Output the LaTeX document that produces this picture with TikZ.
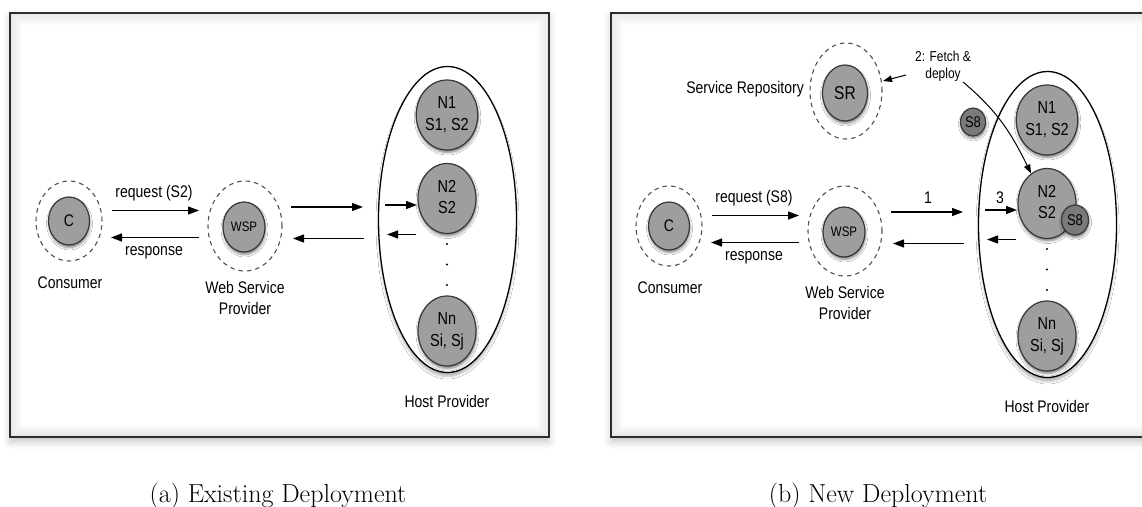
\documentclass[tikz,border=0pt]{standalone}
\usepackage{fontspec}
\newfontfamily\diagfont{Liberation Sans}
\usetikzlibrary{shapes.geometric, arrows.meta, shadows.blur}

\definecolor{nodefill}{RGB}{158,158,158}
\definecolor{darkfill}{RGB}{122,122,122}
\definecolor{nodeedge}{RGB}{55,55,55}
\definecolor{framecol}{RGB}{45,45,45}
\definecolor{halocol}{RGB}{80,80,80}

% diagram text is drawn slightly taller than wide
\newcommand\tallbox[1]{\scalebox{1}[1.2]{#1}}
\newcommand\twolines[2]{\tallbox{\begin{tabular}{@{}c@{}}#1\\#2\end{tabular}}}

\tikzset{
  x=1pt, y=1pt,
  frame/.style={draw=framecol, line width=1.5pt, fill=white,
    blur shadow={shadow xshift=0pt, shadow yshift=-5pt, shadow blur radius=7pt, shadow opacity=22}},
  glow/.style={draw=black, opacity=0.014},
  lbl/.style={font=\diagfont\fontsize{14}{16.7}\selectfont, inner sep=0pt, align=center},
  caption/.style={font=\fontsize{26}{30}\selectfont, inner sep=0pt, anchor=base},
  hostring/.style={ellipse, draw=black, line width=1.3pt, fill=white, inner sep=0pt,
    minimum width=138pt, minimum height=306pt,
    blur shadow={shadow xshift=0pt, shadow yshift=-4pt, shadow blur radius=2.5pt, shadow opacity=28}},
  disc/.style={ellipse, draw=nodeedge, line width=1.2pt, fill=nodefill, inner sep=0pt,
    blur shadow={shadow xshift=0.5pt, shadow yshift=-2.5pt, shadow blur radius=2.5pt, shadow opacity=50}},
  hostnode/.style={disc, minimum width=58pt, minimum height=70pt,
    font=\diagfont\fontsize{14.5}{18}\selectfont},
  svc/.style={disc, fill=darkfill, font=\diagfont\fontsize{13}{15}\selectfont},
  halo/.style={ellipse, draw=halocol, line width=1.1pt, dash pattern=on 4.5pt off 4pt, inner sep=0pt},
  arr/.style={-{Triangle[length=11pt, width=8pt]}, line width=1.3pt, black},
  arrthin/.style={-{Triangle[length=9pt, width=6.5pt]}, line width=1pt, black},
  dot/.style={circle, fill=black, inner sep=0pt, minimum size=2.4pt},
}

% framed panel with a soft inner edge
\newcommand\panelframe[4]{%
  \draw[frame] (#1,#2) rectangle (#3,#4);
  \begin{scope}
    \clip (#1,#2) rectangle (#3,#4);
    \foreach \w in {4,8,...,24}
      \draw[glow, line width=\w pt] (#1,#2) rectangle (#3,#4);
  \end{scope}
  \draw[draw=framecol, line width=1.5pt] (#1,#2) rectangle (#3,#4);
}

% consumer, provider and host provider of one deployment
\newcommand\panelbase[2]{%
  % host provider with its nodes
  \node[hostring] (#1host) at (447.5,-219.5) {};
  \node[hostnode] (#1n1) at (447,-115) {\twolines{N1}{S1, S2}};
  \node[hostnode] (#1n2) at (447,-198.5) {\twolines{N2}{S2}};
  \node[hostnode] (#1nn) at (447,-331) {\twolines{Nn}{Si, Sj}};
  \node[dot] (#1d1) at (447,-244) {};
  \node[dot] (#1d2) at (447,-264.5) {};
  \node[dot] (#1d3) at (447,-285) {};
  \node[lbl] (#1hostlbl) at (447,-401) {\tallbox{Host Provider}};
  % consumer
  \node[halo, minimum width=66pt, minimum height=80pt] (#1cd) at (69,-221) {};
  \node[disc, minimum width=41pt, minimum height=48pt,
        font=\diagfont\fontsize{14}{16}\selectfont] (#1c) at (69,-221) {\tallbox{C}};
  \node[lbl] (#1clbl) at (70,-283) {\tallbox{Consumer}};
  % web service provider
  \node[halo, minimum width=74pt, minimum height=90pt] (#1wd) at (245,-226) {};
  \node[disc, minimum width=42pt, minimum height=50pt,
        font=\diagfont\fontsize{11.5}{13}\selectfont] (#1w) at (244,-227) {\tallbox{WSP}};
  \node[lbl] (#1wlbl) at (245,-300) {\twolines{Web Service}{Provider}};
  % message ends
  \coordinate (#1reqA) at (112,-210.5);  \coordinate (#1reqB) at (199,-210.5);
  \coordinate (#1resA) at (199,-237.5);  \coordinate (#1resB) at (111,-237.5);
  \coordinate (#1fwdA) at (291,-207);    \coordinate (#1fwdB) at (363,-207);
  \coordinate (#1bckA) at (364,-238.5);  \coordinate (#1bckB) at (293,-238.5);
  \coordinate (#1inA)  at (385,-205);    \coordinate (#1inB)  at (417,-205);
  \coordinate (#1outA) at (416,-234.5);  \coordinate (#1outB) at (387,-234.5);
  \draw[arr] (#1reqA) -- (#1reqB);
  \draw[arr] (#1resA) -- (#1resB);
  \draw[arr] (#1fwdA) -- (#1fwdB);
  \draw[arr] (#1bckA) -- (#1bckB);
  \draw[arr] (#1inA) -- (#1inB);
  \draw[arr] (#1outA) -- (#1outB);
  \node[lbl] (#1reqlbl) at (154,-193) {\tallbox{request (#2)}};
  \node[lbl] (#1reslbl) at (154,-253) {\tallbox{response}};
}

\begin{document}
\begin{tikzpicture}
\useasboundingbox (0,0) rectangle (1142,-506);

% panel frames
\panelframe{10}{-13}{549}{-437}
\panelframe{611}{-13}{1152}{-437}

% (a) existing deployment
\panelbase{a}{S2}

% (b) new deployment
\begin{scope}[shift={(600,-5)}]
  \panelbase{b}{S8}
  \node[lbl] (bone) at (328,-193) {\tallbox{1}};
  \node[lbl] (bthree) at (400,-193) {\tallbox{3}};
\end{scope}

% service repository
\node[halo, minimum width=72pt, minimum height=96pt] (srd) at (846,-91) {};
\node[disc, minimum width=45pt, minimum height=56pt,
      font=\diagfont\fontsize{15.5}{18}\selectfont] (sr) at (845,-93) {\tallbox{SR}};
\node[lbl, anchor=east] (srlbl) at (804,-89) {\tallbox{Service Repository}};

% fetched service and its copy on N2
\node[svc, minimum width=25pt, minimum height=28pt] (s8free) at (973,-122) {\tallbox{S8}};
\node[svc, minimum width=27pt, minimum height=30pt] (s8dep) at (1075,-220) {\tallbox{S8}};

% fetch and deploy step
\node[lbl, font=\diagfont\fontsize{12}{14}\selectfont] (fetch) at (943,-66.5) {\twolines{2: Fetch \&}{deploy}};
\coordinate (fetchA) at (906,-75);
\coordinate (fetchB) at (883,-81);
\coordinate (deployA) at (963,-82);
\draw[arrthin] (fetchA) -- (fetchB);
\draw[arrthin] (deployA) to[out=-40, in=116] (bn2.118);

% captions
\node[caption] (capa) at (278,-502) {(a) Existing Deployment};
\node[caption] (capb) at (878,-502) {(b) New Deployment};
\end{tikzpicture}
\end{document}
